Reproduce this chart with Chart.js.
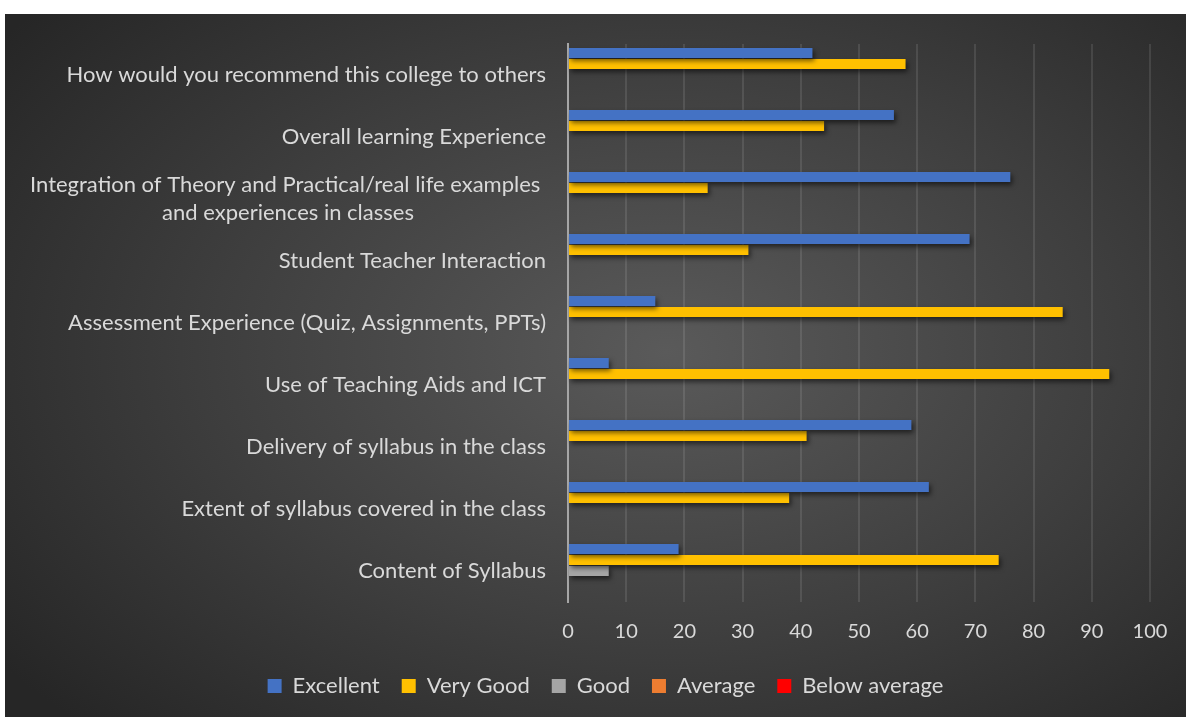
<!DOCTYPE html>
<html>
<head>
<meta charset="utf-8">
<script src="https://cdn.jsdelivr.net/npm/chart.js@4"></script>
<style>
  html, body { margin: 0; padding: 0; background: #ffffff; overflow: hidden; }
  #wrap {
    position: absolute; left: 5px; top: 14px; width: 1181px; height: 703px;
    background: radial-gradient(ellipse 70% 75% at 56% 48%, #5a5a5a 0%, #3e3e3e 55%, #262626 100%);
  }
</style>
</head>
<body>
<div id="wrap"><canvas id="c"></canvas></div>
<script>
const categories = [
  "How would you recommend this college to others",
  "Overall learning Experience",
  ["Integration of Theory and Practical/real life examples ", "and experiences in classes"],
  "Student Teacher Interaction",
  "Assessment Experience (Quiz, Assignments, PPTs)",
  "Use of Teaching Aids and ICT",
  "Delivery of syllabus in the class",
  "Extent of syllabus covered in the class",
  "Content of Syllabus"
];
const seriesNames = ["Excellent", "Very Good", "Good", "Average", "Below average"];
const excellent    = [42, 56, 76, 69, 15, 7, 59, 62, 19];
const veryGood     = [58, 44, 24, 31, 85, 93, 41, 38, 74];
const good         = [0, 0, 0, 0, 0, 0, 0, 0, 7];
const average      = [0, 0, 0, 0, 0, 0, 0, 0, 0];
const belowAverage = [0, 0, 0, 0, 0, 0, 0, 0, 0];
const xTicks = [0, 10, 20, 30, 40, 50, 60, 70, 80, 90, 100];

const colors = ["#4472C4", "#FFC000", "#A5A5A5", "#ED7D31", "#FF0000"];
const FONT = "Lato, 'Open Sans', sans-serif";
const TEXT = "#d9d9d9";

const shadowPlugin = {
  id: 'barShadow',
  beforeDatasetsDraw(chart) {
    const ctx = chart.ctx;
    ctx.save();
    ctx.shadowColor = 'rgba(0,0,0,0.55)';
    ctx.shadowBlur = 5;
    ctx.shadowOffsetX = 2;
    ctx.shadowOffsetY = 3;
  },
  afterDatasetsDraw(chart) {
    chart.ctx.restore();
  }
};

const yLabelPlugin = {
  id: 'yLabels',
  afterDraw(chart) {
    const ctx = chart.ctx;
    const y = chart.scales.y;
    const right = chart.chartArea.left - 22;
    ctx.save();
    ctx.font = "22px " + FONT;
    ctx.fillStyle = TEXT;
    ctx.textBaseline = 'middle';
    chart.data.labels.forEach((lab, i) => {
      const cy = y.getPixelForValue(i);
      const lines = Array.isArray(lab) ? lab : [lab];
      if (lines.length === 1) {
        ctx.textAlign = 'right';
        ctx.fillText(lines[0], right, cy);
      } else {
        const w = Math.max(...lines.map(l => ctx.measureText(l).width));
        const cx = right - w / 2;
        const lh = 28;
        ctx.textAlign = 'center';
        lines.forEach((l, k) => {
          ctx.fillText(l, cx, cy + (k - (lines.length - 1) / 2) * lh);
        });
      }
    });
    ctx.restore();
  }
};

const dataArrays = [excellent, veryGood, good, average, belowAverage];

new Chart(document.getElementById('c'), {
  type: 'bar',
  data: {
    labels: categories,
    datasets: seriesNames.map((n, i) => ({
      label: n,
      data: dataArrays[i],
      backgroundColor: colors[i],
      borderWidth: 0,
      categoryPercentage: 0.887,
      barPercentage: 0.91
    }))
  },
  options: {
    indexAxis: 'y',
    responsive: true,
    maintainAspectRatio: false,
    animation: false,
    layout: { padding: { top: 30, right: 36, bottom: 10, left: 56 } },
    plugins: {
      legend: {
        position: 'bottom',
        labels: {
          color: TEXT,
          font: { family: FONT, size: 22 },
          boxWidth: 14,
          boxHeight: 14,
          padding: 22
        }
      },
      tooltip: { enabled: false }
    },
    scales: {
      x: {
        min: 0, max: 100,
        afterBuildTicks(scale) { scale.ticks = xTicks.map(v => ({ value: v })); },
        afterFit(scale) { scale.height = 51; },
        grid: { color: 'rgba(255,255,255,0.10)', lineWidth: 2, drawTicks: false },
        border: { display: false },
        ticks: { color: TEXT, font: { family: FONT, size: 20 }, padding: 18 }
      },
      y: {
        afterFit(scale) { scale.width = 507; },
        grid: { display: false, drawTicks: false },
        border: { display: true, color: '#a6a6a6', width: 2 },
        ticks: { display: false }
      }
    }
  },
  plugins: [shadowPlugin, yLabelPlugin]
});
</script>
</body>
</html>
